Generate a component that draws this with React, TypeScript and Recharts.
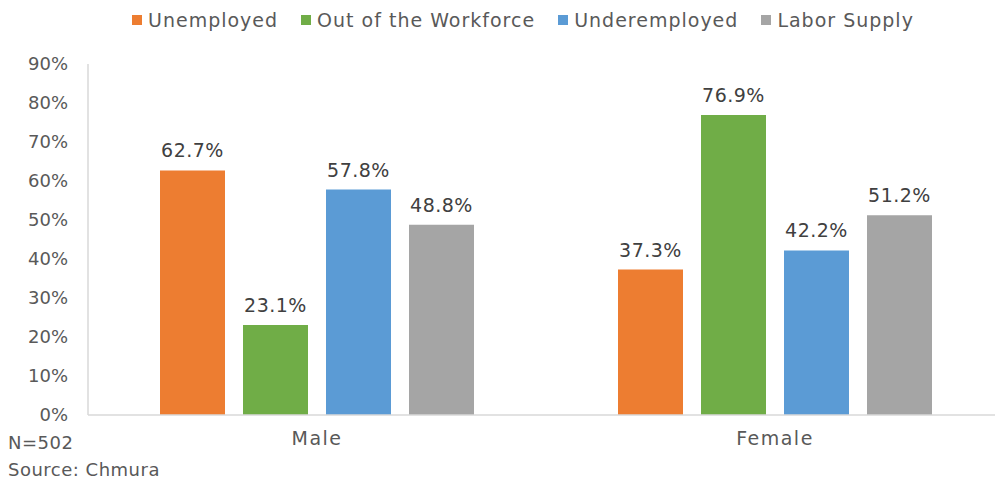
import { BarChart, Bar, XAxis, YAxis, LabelList } from "recharts";

const genders = ["Male", "Female"];
const unemployed = [62.7, 37.3];
const outOfWorkforce = [23.1, 76.9];
const underemployed = [57.8, 42.2];
const laborSupply = [48.8, 51.2];
const yTicks = [0, 10, 20, 30, 40, 50, 60, 70, 80, 90];

const series = [
  { key: "unemployed", name: "Unemployed", color: "#ED7D31" },
  { key: "outOfWorkforce", name: "Out of the Workforce", color: "#70AD47" },
  { key: "underemployed", name: "Underemployed", color: "#5B9BD5" },
  { key: "laborSupply", name: "Labor Supply", color: "#A5A5A5" },
];

const data = genders.map((g, i) => ({
  gender: g,
  unemployed: unemployed[i],
  outOfWorkforce: outOfWorkforce[i],
  underemployed: underemployed[i],
  laborSupply: laborSupply[i],
}));

const font = "'DejaVu Sans', sans-serif";

export default function App() {
  return (
    <div
      style={{
        position: "absolute",
        top: 0,
        left: 0,
        width: 995,
        height: 482,
        overflow: "hidden",
        background: "#fff",
        fontFamily: font,
      }}
    >
      <div
        style={{
          position: "absolute",
          top: 9,
          left: 132,
          display: "flex",
          gap: 23,
          fontSize: 19,
          letterSpacing: 1,
          color: "#595959",
          whiteSpace: "nowrap",
        }}
      >
        {series.map((s) => (
          <div key={s.key} style={{ display: "flex", alignItems: "center" }}>
            <span
              style={{ width: 10, height: 10, background: s.color, marginRight: 6, display: "inline-block" }}
            />
            {s.name}
          </div>
        ))}
      </div>

      <BarChart
        width={1004}
        height={482}
        data={data}
        margin={{ top: 64, right: 0, left: 0, bottom: 27 }}
        barGap={18}
        barCategoryGap={72}
        style={{ position: "absolute", top: 0, left: 0 }}
      >
        <XAxis
          dataKey="gender"
          height={40}
          tickSize={0}
          tickMargin={17}
          axisLine={{ stroke: "#D9D9D9", strokeWidth: 1.5 }}
          tick={{ fill: "#595959", fontSize: 19, fontFamily: font, letterSpacing: 1.5 }}
        />
        <YAxis
          width={88}
          domain={[0, 90]}
          ticks={yTicks}
          interval={0}
          tickSize={0}
          tickMargin={20}
          tickFormatter={(v: number) => `${v}%`}
          axisLine={{ stroke: "#D9D9D9", strokeWidth: 1.5 }}
          tick={{ fill: "#595959", fontSize: 18, fontFamily: font }}
        />
        {series.map((s) => (
          <Bar key={s.key} dataKey={s.key} name={s.name} fill={s.color} isAnimationActive={false}>
            <LabelList
              dataKey={s.key}
              position="top"
              offset={13}
              formatter={(v: number) => `${v.toFixed(1)}%`}
              style={{ fill: "#404040", fontSize: 19, fontFamily: font, letterSpacing: 0.5 }}
            />
          </Bar>
        ))}
      </BarChart>

      <div
        style={{
          position: "absolute",
          left: 8,
          top: 429,
          fontSize: 18,
          letterSpacing: 0.5,
          color: "#595959",
          lineHeight: "27px",
        }}
      >
        <div>N=502</div>
        <div>Source: Chmura</div>
      </div>
    </div>
  );
}
